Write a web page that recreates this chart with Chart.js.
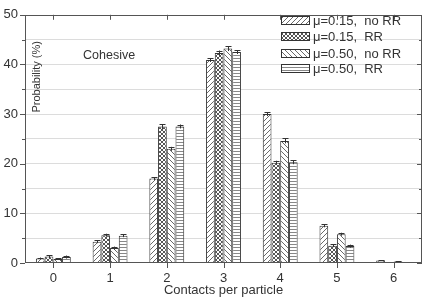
<!DOCTYPE html>
<html><head><meta charset="utf-8">
<script src="https://cdn.jsdelivr.net/npm/chart.js@4/dist/chart.umd.min.js"></script>
<style>html,body{margin:0;padding:0;background:#fff}#wrap{width:427px;height:300px}</style>
</head><body><div id="wrap"><canvas id="c" width="427" height="300"></canvas></div>
<script>
const categories = ['0','1','2','3','4','5','6'];
const seriesLabels = ['\u03bc=0.15,  no RR','\u03bc=0.15,  RR','\u03bc=0.50,  no RR','\u03bc=0.50,  RR'];
const mu015noRR = [0.9, 4.3, 17.0, 40.9, 30.0, 7.5, 0.5];
const mu015RR   = [1.3, 5.6, 27.5, 42.3, 20.2, 3.5, 0.1];
const mu050noRR = [0.8, 3.0, 23.0, 43.2, 24.6, 5.8, 0.3];
const mu050RR   = [1.2, 5.5, 27.5, 42.5, 20.3, 3.4, 0.1];
const err015noRR = [0.2, 0.3, 0.3, 0.4, 0.4, 0.3, 0.1];
const err015RR   = [0.3, 0.3, 0.5, 0.5, 0.4, 0.3, 0.1];
const err050noRR = [0.2, 0.3, 0.4, 0.5, 0.5, 0.3, 0.1];
const err050RR   = [0.3, 0.3, 0.4, 0.4, 0.4, 0.3, 0.1];
const yTicks = [0,10,20,30,40,50];

const FONT = '"Liberation Sans", Arial, sans-serif';
const INK = '#333';

function makePattern(kind){
  const s = kind==='cross' ? 4 : (kind==='h' ? 3 : 5);
  const c = document.createElement('canvas'); c.width = s; c.height = s;
  const g = c.getContext('2d');
  g.fillStyle = '#fff'; g.fillRect(0,0,s,s);
  g.strokeStyle = '#6a6a6a'; g.lineWidth = 1;
  g.beginPath();
  if(kind==='fwd'){ g.moveTo(-1,s+1); g.lineTo(s+1,-1); g.moveTo(-1,1); g.lineTo(1,-1); g.moveTo(s-1,s+1); g.lineTo(s+1,s-1); }
  else if(kind==='back'){ g.moveTo(-1,-1); g.lineTo(s+1,s+1); g.moveTo(s-1,-1); g.lineTo(s+1,1); g.moveTo(-1,s-1); g.lineTo(1,s+1); }
  else if(kind==='h'){ g.strokeStyle='#888'; g.moveTo(0,1.5); g.lineTo(s,1.5); }
  else if(kind==='cross'){ g.strokeStyle='#555'; g.moveTo(-1,-1); g.lineTo(s+1,s+1); g.moveTo(-1,s+1); g.lineTo(s+1,-1); }
  g.stroke();
  return g.createPattern(c,'repeat');
}
const fills = [makePattern('fwd'), makePattern('cross'), makePattern('back'), makePattern('h')];
const values = [mu015noRR, mu015RR, mu050noRR, mu050RR];
const errs = [err015noRR, err015RR, err050noRR, err050RR];

const framePlugin = {
  id:'frame',
  afterDatasetsDraw(chart){
    const {ctx, chartArea:a, scales:{x,y}} = chart;
    ctx.save();
    // error bars
    ctx.strokeStyle = INK; ctx.lineWidth = 1;
    chart.data.datasets.forEach((ds,i)=>{
      const meta = chart.getDatasetMeta(i);
      meta.data.forEach((bar,j)=>{
        const v = values[i][j], e = errs[i][j];
        const px = Math.round(bar.x)+0.5;
        const yt = y.getPixelForValue(v+e), yb = y.getPixelForValue(v-e);
        ctx.beginPath();
        ctx.moveTo(px,yt); ctx.lineTo(px,yb);
        ctx.moveTo(px-3,Math.round(yt)+0.5); ctx.lineTo(px+3,Math.round(yt)+0.5);
        ctx.stroke();
      });
    });
    // frame
    ctx.strokeStyle = '#555'; ctx.lineWidth = 1;
    ctx.strokeRect(Math.round(a.left)+0.5, Math.round(a.top)+0.5, Math.round(a.right-a.left)-1, Math.round(a.bottom-a.top)-1);
    // y ticks (left outward, right inward)
    ctx.beginPath();
    for(let v=0; v<=50; v+=5){
      const py = Math.round(y.getPixelForValue(v))+0.5;
      const major = v%10===0;
      const L = major?5:3;
      ctx.moveTo(a.left, py); ctx.lineTo(a.left-L, py);
      ctx.moveTo(a.right, py); ctx.lineTo(a.right-L, py);
    }
    // x ticks (bottom outward, top inward)
    for(let i=0;i<categories.length;i++){
      const px = Math.round(x.getPixelForValue(i))+0.5;
      ctx.moveTo(px, a.bottom); ctx.lineTo(px, a.bottom+5);
      ctx.moveTo(px, a.top); ctx.lineTo(px, a.top+5);
    }
    ctx.stroke();
    // texts
    ctx.fillStyle = INK;
    ctx.font = '12.5px '+FONT;
    ctx.textBaseline = 'middle';
    ctx.textAlign = 'left';
    ctx.fillText('Cohesive', a.left+58, a.top+41);
    ctx.save();
    ctx.translate(a.left+12, a.top+62);
    ctx.rotate(-Math.PI/2);
    ctx.textAlign = 'center';
    ctx.font = '11px '+FONT;
    ctx.fillText('Probability (%)', 0, 0);
    ctx.restore();
    ctx.font = '13px '+FONT;
    ctx.textAlign = 'center';
    ctx.fillText('Contacts per particle', (a.left+a.right)/2, 290);
    // legend
    ctx.font = '13px '+FONT;
    ctx.textAlign = 'left';
    const rowY = [20, 36, 52.5, 68];
    seriesLabels.forEach((lab,i)=>{
      const ry = Math.round(rowY[i]);
      ctx.fillStyle = fills[i];
      ctx.fillRect(281, ry-4, 29, 9);
      ctx.strokeStyle = INK;
      ctx.strokeRect(281.5, ry-3.5, 28, 8);
      ctx.fillStyle = INK;
      ctx.fillText(lab, 313, ry+1);
    });
    ctx.restore();
  }
};

new Chart(document.getElementById('c'), {
  type:'bar',
  data:{
    labels: categories,
    datasets: values.map((vals,i)=>({
      label: seriesLabels[i], data: vals,
      backgroundColor: fills[i], borderColor: INK, borderWidth: 1,
      categoryPercentage: 0.615, barPercentage: 1.0
    }))
  },
  options:{
    responsive:false, animation:false,
    layout:{padding:{top:6,right:5,left:0,bottom:0}},
    plugins:{legend:{display:false}, tooltip:{enabled:false}},
    scales:{
      x:{
        offset:true,
        grid:{display:false, drawTicks:false},
        border:{display:false},
        ticks:{color:INK, font:{family:FONT,size:13}, padding:8},
        afterFit(s){ s.height = 37; }
      },
      y:{
        min:0, max:50,
        afterBuildTicks(s){ const t=[]; for(let v=0; v<=50; v+=5) t.push({value:v}); s.ticks = t; },
        ticks:{color:INK, font:{family:FONT,size:13}, padding:7,
          callback(v){ return yTicks.includes(v) ? String(v) : ''; }},
        grid:{drawTicks:false, color(ctx){ const v=ctx.tick&&ctx.tick.value; return (v===0||v===50)?'rgba(0,0,0,0)':'#dcdcdc'; }},
        border:{display:false},
        afterFit(s){ s.width = 25; }
      }
    }
  },
  plugins:[framePlugin]
});
</script></body></html>
